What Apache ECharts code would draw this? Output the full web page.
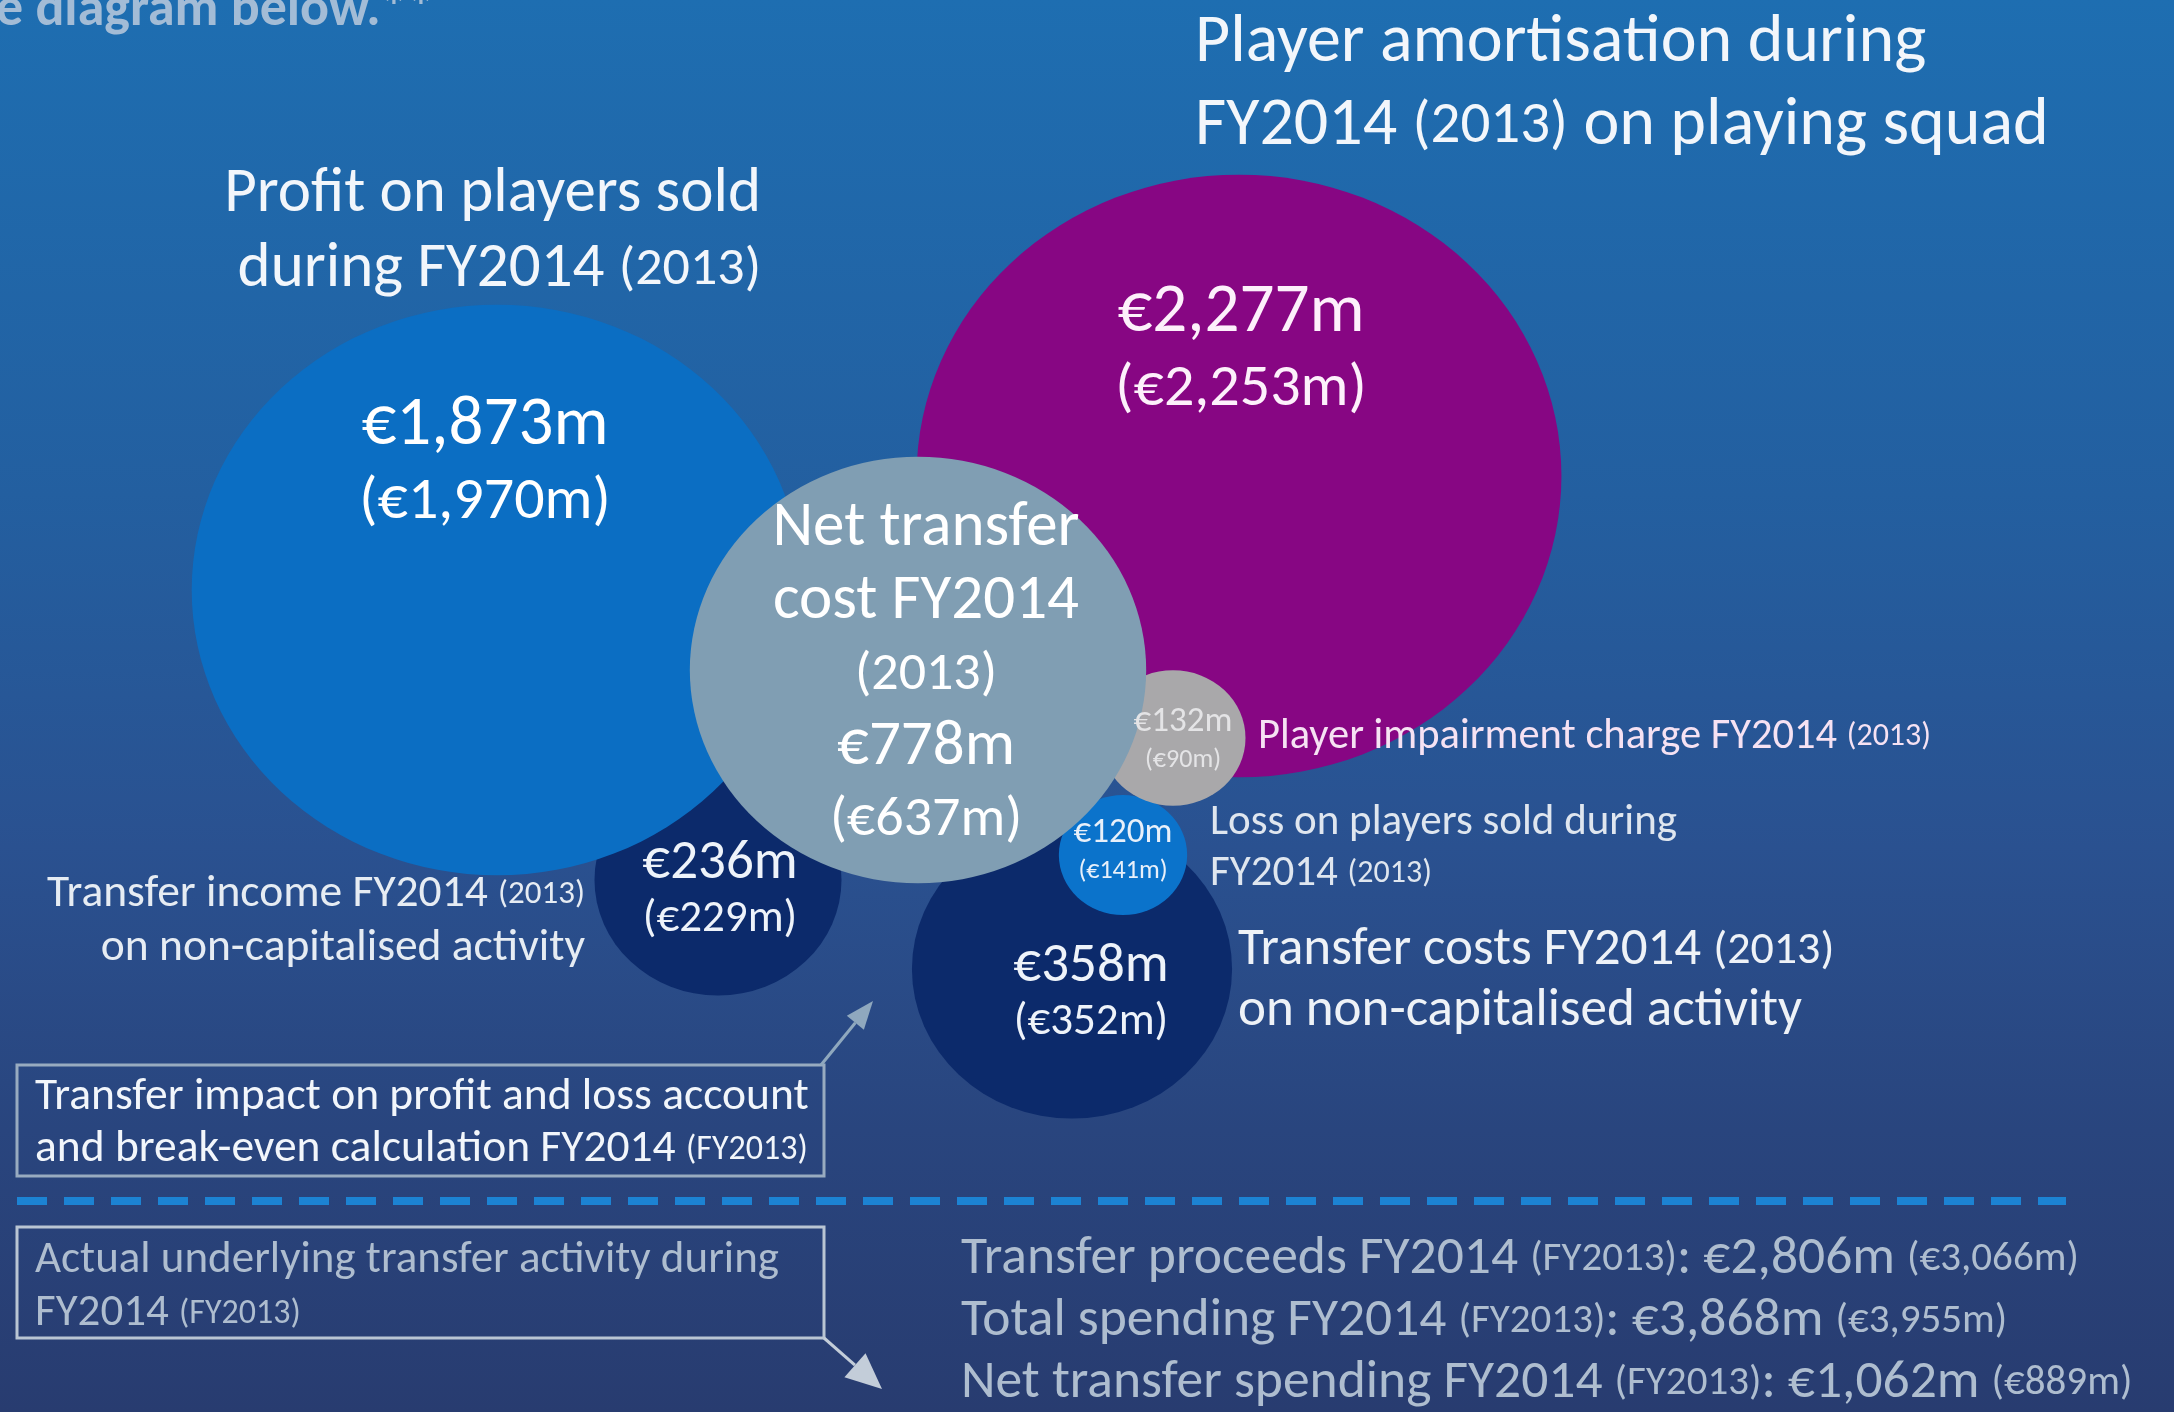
<!DOCTYPE html>
<html>
<head>
<meta charset="utf-8">
<title>Transfer impact FY2014</title>
<script src="https://cdn.jsdelivr.net/npm/echarts@6/dist/echarts.min.js"></script>
<style>
  html, body { margin: 0; padding: 0; width: 2174px; height: 1412px; overflow: hidden; background: #263d72; }
  #chart { width: 2174px; height: 1412px; }
</style>
</head>
<body>
<div id="chart"></div>
<script>
// ---- data -------------------------------------------------------------
const categories = [
  'Transfer income on non-capitalised activity',
  'Transfer costs on non-capitalised activity',
  'Profit on players sold',
  'Player amortisation on playing squad',
  'Loss on players sold',
  'Player impairment charge',
  'Net transfer cost'
];
const valuesFY2014 = [236, 358, 1873, 2277, 120, 132, 778];
const valuesFY2013 = [229, 352, 1970, 2253, 141, 90, 637];

const summaryLabels = ['Transfer proceeds', 'Total spending', 'Net transfer spending'];
const summaryFY2014 = [2806, 3868, 1062];
const summaryFY2013 = [3066, 3955, 889];

// ---- layout & style -----------------------------------------------------
const W = 2174, H = 1412;
const FONT = 'Carlito, Lato, "Open Sans", sans-serif';

// bubble centres on the canvas-sized value axes (draw order = array order)
const bubbleCentres = [[718, 880], [1072, 969], [497, 590], [1239, 476], [1123, 855], [1173, 738], [918, 670]];
const bubbleColors = ['#0c2a6b', '#0c2a6b', '#0b6ec3', '#870683', '#0b73cb', '#a9a8aa', '#809eb3'];
const labelOffsets = [[2, 12], [19, 26], [-12, -125], [2, -124], [0, -3], [10, 3], [8, 5]];
const labelSizes = ['M', 'M', 'L', 'L', 'S', 'S', 'N'];
const labelColors = ['#eef3fa', '#eef3fa', '#ffffff', '#fdf0fb', '#e8f0fa', '#e4e4e6', '#ffffff'];

// log scale for bubble radius (value -> vertical radius in px)
const SIZE_DOMAIN = [100, 2500];
const RADIUS_RANGE = [45, 309];
const ASPECT = 1.07;
function radiusFor(v) {
  const t = (Math.log(v) - Math.log(SIZE_DOMAIN[0])) / (Math.log(SIZE_DOMAIN[1]) - Math.log(SIZE_DOMAIN[0]));
  return RADIUS_RANGE[0] + t * (RADIUS_RANGE[1] - RADIUS_RANGE[0]);
}
function euro(v) { return '\u20ac' + v.toLocaleString('en-US') + 'm'; }

const bubbleData = categories.map((name, i) => ({
  name: name,
  value: [bubbleCentres[i][0], bubbleCentres[i][1], valuesFY2014[i], valuesFY2013[i]],
  itemStyle: { color: bubbleColors[i], opacity: 1 },
  label: { offset: labelOffsets[i], color: labelColors[i] }
}));

function bubbleLabel(p) {
  const i = p.dataIndex;
  const s = labelSizes[i];
  const cur = euro(valuesFY2014[i]);
  const prev = '(' + euro(valuesFY2013[i]) + ')';
  if (s === 'N') {
    return '{t|Net transfer}\n{t|cost FY2014}\n{y|(2013)}\n{t|' + cur + '}\n{p7|' + prev + '}';
  }
  return '{v' + s + '|' + cur + '}\n{p' + s + '|' + prev + '}';
}

// ---- text helpers ---------------------------------------------------------
function txt(x, y, text, size, color, align, extra) {
  const st = Object.assign({
    x: x, y: y, text: text,
    fontFamily: FONT, fontSize: size, fill: color,
    align: align || 'left', verticalAlign: 'middle',
    textAlign: align || 'left', textVerticalAlign: 'middle'
  }, extra || {});
  return { type: 'text', z: 100, silent: true, style: st };
}
function richTxt(x, y, text, size, small, color, align) {
  return txt(x, y, text, size, color, align, {
    rich: { s: { fontFamily: FONT, fontSize: small, fill: color, color: color } }
  });
}

// arrow: shaft + filled head
function arrow(x1, y1, x2, y2, color, width, headLen, headHalf) {
  const dx = x2 - x1, dy = y2 - y1, L = Math.sqrt(dx * dx + dy * dy);
  const ux = dx / L, uy = dy / L, nx = -uy, ny = ux;
  const bx = x2 - ux * headLen, by = y2 - uy * headLen;
  return [
    { type: 'line', z: 100, silent: true, shape: { x1: x1, y1: y1, x2: bx, y2: by }, style: { stroke: color, lineWidth: width } },
    { type: 'polygon', z: 100, silent: true,
      shape: { points: [[x2, y2], [bx + nx * headHalf, by + ny * headHalf], [bx - nx * headHalf, by - ny * headHalf]] },
      style: { fill: color } }
  ];
}

const white = '#f2f6fb';
const greyText = '#aebdcf';

const graphics = [
  txt(-4, 11, 'e diagram below.**', 54, '#a3bcd6', 'left', { fontWeight: 'bold' }),

  richTxt(1195, 44, 'Player amortisation during', 68, 59, white),
  richTxt(1195, 127, 'FY2014 {s|(2013)} on playing squad', 68, 59, white),

  richTxt(761, 195, 'Profit on players sold', 63, 54, white, 'right'),
  richTxt(761, 270, 'during FY2014 {s|(2013)}', 63, 54, white, 'right'),

  richTxt(1258, 737, 'Player impairment charge FY2014 {s|(2013)}', 42.5, 32, '#f6e2f3'),
  richTxt(1210, 823, 'Loss on players sold during', 43, 32, '#dfe6ef'),
  richTxt(1210, 874, 'FY2014 {s|(2013)}', 43, 32, '#dfe6ef'),
  richTxt(1238, 951, 'Transfer costs FY2014 {s|(2013)}', 53, 46, '#eef2f7'),
  richTxt(1238, 1012, 'on non-capitalised activity', 53, 46, '#eef2f7'),
  richTxt(585, 895, 'Transfer income FY2014 {s|(2013)}', 45.5, 33, '#e6ecf3', 'right'),
  richTxt(585, 949, 'on non-capitalised activity', 45.5, 33, '#e6ecf3', 'right'),

  { type: 'rect', z: 100, silent: true, shape: { x: 17, y: 1065, width: 807, height: 111 },
    style: { fill: 'rgba(0,0,0,0)', stroke: '#98abc0', lineWidth: 3 } },
  richTxt(35, 1098, 'Transfer impact on profit and loss account', 45.5, 34, white),
  richTxt(35, 1150, 'and break-even calculation FY2014 {s|(FY2013)}', 45.5, 34, white),

  { type: 'line', z: 100, silent: true, shape: { x1: 17, y1: 1201, x2: 2066, y2: 1201 },
    style: { stroke: '#1c83d3', lineWidth: 8, lineDash: [30, 17] } },

  { type: 'rect', z: 100, silent: true, shape: { x: 17, y: 1227, width: 807, height: 111 },
    style: { fill: 'rgba(0,0,0,0)', stroke: '#b9c5d3', lineWidth: 3 } },
  richTxt(35, 1261, 'Actual underlying transfer activity during', 45, 34, greyText),
  richTxt(35, 1314, 'FY2014 {s|(FY2013)}', 45, 34, greyText)
];

arrow(821, 1065, 873, 1001, '#8fa8be', 3, 28, 11).forEach(g => graphics.push(g));
arrow(824, 1338, 882, 1389, '#c3cdd9', 3, 36, 16).forEach(g => graphics.push(g));

summaryLabels.forEach((lab, i) => {
  graphics.push(richTxt(961, 1260 + i * 62,
    lab + ' FY2014 {s|(FY2013)}: ' + euro(summaryFY2014[i]) + ' {s|(' + euro(summaryFY2013[i]) + ')}',
    53.5, 41, greyText));
});

// ---- chart ----------------------------------------------------------------
const chart = echarts.init(document.getElementById('chart'), null, { renderer: 'canvas', width: W, height: H });
chart.setOption({
  animation: false,
  backgroundColor: {
    type: 'linear', x: 0, y: 0, x2: 0, y2: 1,
    colorStops: [
      { offset: 0, color: '#1e6eb1' },
      { offset: 0.35, color: '#235fa0' },
      { offset: 0.6, color: '#2a5190' },
      { offset: 0.8, color: '#29457e' },
      { offset: 1, color: '#283c70' }
    ]
  },
  grid: { left: 0, right: 0, top: 0, bottom: 0 },
  xAxis: { type: 'value', min: 0, max: W, show: false },
  yAxis: { type: 'value', min: 0, max: H, inverse: true, show: false },
  series: [{
    type: 'scatter',
    silent: true,
    clip: false,
    symbol: 'circle',
    symbolSize: (val) => { const r = radiusFor(val[2]); return [2 * r * ASPECT, 2 * r]; },
    itemStyle: { opacity: 1 },
    data: bubbleData,
    label: {
      show: true,
      position: 'inside',
      fontFamily: FONT,
      formatter: bubbleLabel,
      rich: {
        vL: { fontFamily: FONT, fontSize: 69, lineHeight: 76 },
        pL: { fontFamily: FONT, fontSize: 60, lineHeight: 76 },
        vM: { fontFamily: FONT, fontSize: 55, lineHeight: 56 },
        pM: { fontFamily: FONT, fontSize: 45, lineHeight: 56 },
        vS: { fontFamily: FONT, fontSize: 35, lineHeight: 38 },
        pS: { fontFamily: FONT, fontSize: 26, lineHeight: 38 },
        t: { fontFamily: FONT, fontSize: 63, lineHeight: 73 },
        y: { fontFamily: FONT, fontSize: 54, lineHeight: 73 },
        p7: { fontFamily: FONT, fontSize: 56, lineHeight: 73 }
      }
    }
  }],
  graphic: { elements: graphics }
});
</script>
</body>
</html>
